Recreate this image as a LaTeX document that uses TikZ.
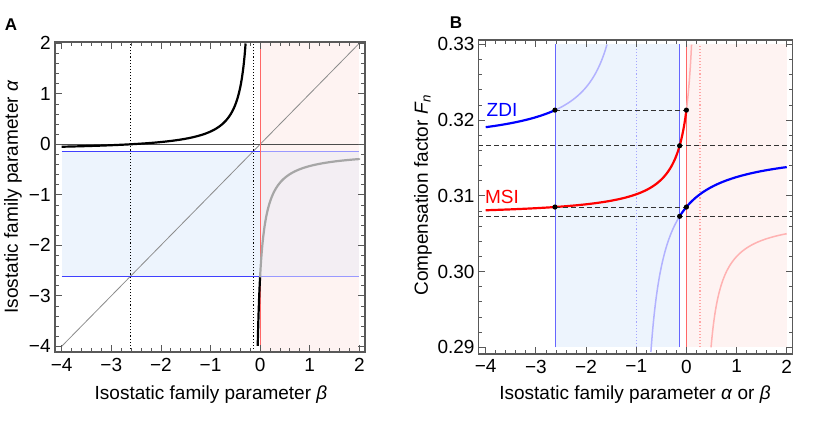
\documentclass[tikz,border=0pt]{standalone}
\usepackage{fontspec}
\setmainfont{Liberation Sans}
\begin{document}
\begin{tikzpicture}[x=1pt,y=1pt,
  frame/.style={draw=black!65,line width=1.2pt},
  tk/.style={black!65,line width=0.8pt},
  lab/.style={font=\fontsize{19}{21}\selectfont,inner sep=1pt},
  tl/.style={font=\fontsize{19}{21}\selectfont,inner sep=1pt},
  curve/.style={line width=2.2pt},
  thin/.style={line width=0.8pt},
  dsh/.style={dashed,black!80,line width=1pt,dash pattern=on 5pt off 3pt}]
\definecolor{bfill}{HTML}{EDF4FD}
\definecolor{pfill}{HTML}{FEF3F2}
\definecolor{ovfill}{HTML}{F3EEF3}
\useasboundingbox (0,-421) rectangle (830,0);
\node[font=\bfseries\fontsize{17}{19}\selectfont] (la) at (11,-25) {A};
\node[font=\bfseries\fontsize{17}{19}\selectfont] (lb) at (456,-23) {B};
% ---------------- Panel A
\begin{scope}[shift={(260.1pt,-144.3pt)},x=49.6pt,y=50.5pt]
\fill[bfill] (-4,-2.62) rectangle (0,-0.135);
\fill[pfill] (0,-4.113) rectangle (2,2.026);
\fill[ovfill] (0,-2.62) rectangle (2,-0.135);
\draw[thin,black!45] (-4,-4) -- (2,2);
\draw[thin,black!70] (-4,0) -- (2,0);
\draw[thin,blue!75] (-4,-0.135) -- (0,-0.135);
\draw[thin,blue!75] (-4,-2.62) -- (0,-2.62);
\draw[thin,blue!40] (0,-0.135) -- (2,-0.135);
\draw[thin,blue!40] (0,-2.62) -- (2,-2.62);
\draw[thin,red!60] (0,-4.113) -- (0,2.026);
\draw[line width=1.1pt,dotted] (-2.62,-4.113) -- (-2.62,2.026);
\draw[line width=1.1pt,dotted] (-0.135,-4.113) -- (-0.135,2.026);
\draw[curve,black] plot[domain=-4:-0.292,samples=200] (\x,{-0.135-0.3355/(\x+0.135)});
\draw[curve,black] plot[domain=-0.048:0,samples=20] (\x,{-0.135-0.3355/(\x+0.135)});
\draw[curve,black!35,line cap=round] plot[domain=0:2,samples=200] (\x,{-0.135-0.3355/(\x+0.135)});
\draw[frame] (-4.135,-4.113) rectangle (2.115,2.026);
\foreach \i in {-4,...,2}{
  \draw[tk] (\i,-4.113) -- ++(0,7pt); \draw[tk] (\i,2.026) -- ++(0,-7pt);
  \draw[tk] (-4.135,\i) -- ++(7pt,0); \draw[tk] (2.115,\i) -- ++(-7pt,0);
  \node[tl,anchor=north] (ax\i) at (\i,-4.22) {\ifnum\i<0 −\the\numexpr-\i\relax\else\i\fi};
  \node[tl,anchor=east] (ay\i) at (-4.2,\i) {\ifnum\i<0 −\the\numexpr-\i\relax\else\i\fi};
}
\foreach \k in {-20,...,10}{
  \draw[tk] (\k/5,-4.113) -- ++(0,4pt); \draw[tk] (\k/5,2.026) -- ++(0,-4pt);
}
\foreach \k in {-20,...,10}{
  \draw[tk] (-4.135,\k/5) -- ++(4pt,0); \draw[tk] (2.115,\k/5) -- ++(-4pt,0);
}
\end{scope}
\node[lab] (xla) at (211,-395) {Isostatic family parameter \textit{β}};
\node[lab,rotate=90] (yla) at (13,-197) {Isostatic family parameter \textit{α}};
% ---------------- Panel B
\begin{scope}[shift={(686.4pt,-195.8pt)},x=50.17pt,y=75.75pt]
\fill[bfill] (-2.62,-2) rectangle (-0.135,2);
\fill[pfill] (0,-2) rectangle (2,2);
\draw[thin,blue!60] (-2.62,-2) -- (-2.62,2);
\draw[thin,blue!60] (-0.135,-2) -- (-0.135,2);
\draw[blue!35,dotted,line width=1.1pt] (-1,-2) -- (-1,2);
\draw[thin,red!60] (0,-2) -- (0,2);
\draw[red!35,dotted,line width=1.1pt] (0.27,-2) -- (0.27,2);
% light branches
\draw[blue!30,line width=1.5pt] plot[domain=-2.62:-1.583,samples=150] (\x,{0.6425-0.7905/(\x+1)});
\draw[blue!30,line width=1.5pt] plot[domain=-0.7077:-0.135,samples=150] (\x,{0.6425-0.7905/(\x+1)});
\draw[red!30,line width=1.5pt] plot[domain=0:0.1029,samples=60] (\x,{-0.28-0.381/(\x-0.27)});
\draw[red!30,line width=1.5pt] plot[domain=0.4915:2,samples=150] (\x,{-0.28-0.381/(\x-0.27)});
% dark branches
\draw[curve,blue] plot[domain=-4:-2.62,samples=80] (\x,{0.6425-0.7905/(\x+1)});
\draw[curve,blue] plot[domain=-0.135:2,samples=150] (\x,{0.6425-0.7905/(\x+1)});
\draw[curve,red] plot[domain=-4:0,samples=200] (\x,{-0.28-0.381/(\x-0.27)});
% points
\coordinate (p1) at (-2.62,{-0.28-0.381/(-0.27)});
\coordinate (p2) at (0,{-0.28-0.381/(-0.27)});
\coordinate (p3) at (-0.135,{-0.28-0.381/(-0.405)});
\coordinate (p4) at (-2.62,{-0.28-0.381/(-2.89)});
\coordinate (p5) at (0,{-0.28-0.381/(-2.89)});
\coordinate (p6) at (-0.135,{0.6425-0.7905/0.865});
\coordinate (q3a) at (-4.15,{-0.28-0.381/(-0.405)});
\coordinate (q3b) at (2.12,{-0.28-0.381/(-0.405)});
\coordinate (q6a) at (-4.15,{0.6425-0.7905/0.865});
\coordinate (q6b) at (2.12,{0.6425-0.7905/0.865});
\draw[dsh] (p1) -- (p2);
\draw[dsh] (p4) -- (p5);
\draw[dsh] (q3a) -- (q3b);
\draw[dsh] (q6a) -- (q6b);
\foreach \p in {p1,p2,p3,p4,p5,p6} \fill (\p) circle (2.6pt);
\draw[frame] (-4.15,-2.088) rectangle (2.12,2.057);
\foreach \i in {-4,...,2}{
  \draw[tk] (\i,-2.088) -- ++(0,7pt); \draw[tk] (\i,2.057) -- ++(0,-7pt);
  \node[tl,anchor=north] (bx\i) at (\i,-2.15) {\ifnum\i<0 −\the\numexpr-\i\relax\else\i\fi};
}
\foreach \k in {-20,...,10}{
  \draw[tk] (\k/5,-2.088) -- ++(0,4pt); \draw[tk] (\k/5,2.057) -- ++(0,-4pt);
}
\foreach \i/\t in {-2/0.29,-1/0.30,0/0.31,1/0.32,2/0.33}{
  \draw[tk] (-4.15,\i) -- ++(7pt,0); \draw[tk] (2.12,\i) -- ++(-7pt,0);
  \node[tl,anchor=east] (by\i) at (-4.2,\i) {\t};
}
\foreach \k in {-10,...,10}{
  \draw[tk] (-4.15,\k/5) -- ++(4pt,0); \draw[tk] (2.12,\k/5) -- ++(-4pt,0);
}
\end{scope}
\node[lab,text=blue] (zdi) at (502,-110) {ZDI};
\node[lab,text=red] (msi) at (502,-197) {MSI};
\node[lab] (xlb) at (635,-395) {Isostatic family parameter \textit{α} or \textit{β}};
\node[lab,rotate=90] (ylb) at (423,-195) {Compensation factor \textit{F}\textsubscript{\textit{n}}};
\end{tikzpicture}
\end{document}
